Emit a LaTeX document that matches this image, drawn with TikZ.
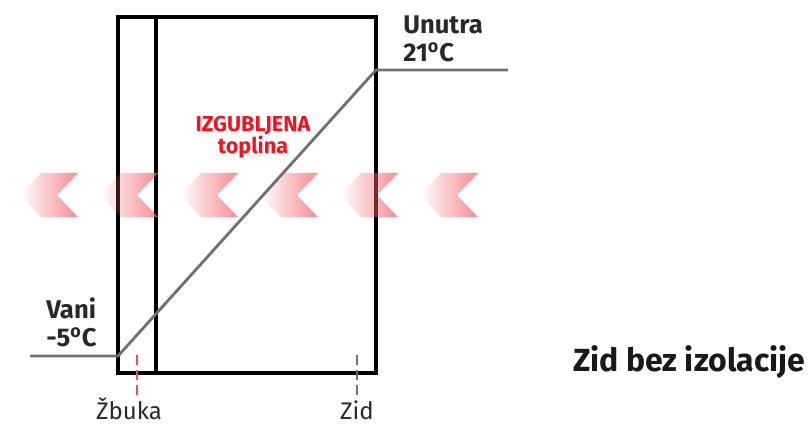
\documentclass[tikz,border=0pt]{standalone}
\usepackage{fontspec}
\setmainfont{Fira Sans}
\definecolor{lossred}{RGB}{240,20,30}
\definecolor{chevpink}{RGB}{243,100,112}
\definecolor{tempgray}{RGB}{112,112,112}
\definecolor{txtgray}{RGB}{40,40,40}
\usetikzlibrary{positioning,fadings}
\tikzfading[name=chevfade, left color=transparent!100, right color=transparent!0]

\begin{document}
\begin{tikzpicture}[x=0.5pt,y=-0.5pt,
  wall/.style={draw=black,line width=1.6pt},
  templine/.style={draw=tempgray,line width=1.4pt},
  chev/.style={fill=chevpink,fill opacity=0.75,path fading=chevfade},
  layermark/.style={line width=1.2pt,dash pattern=on 5pt off 2.5pt},
  tag/.style={font=\bfseries\fontsize{12.8}{14}\selectfont,align=left,text=txtgray,inner sep=0pt},
  lbl/.style={font=\fontsize{12}{14}\selectfont,text=txtgray,inner sep=0pt},
  lossnote/.style={font=\bfseries\fontsize{10.8}{11}\selectfont,align=center,text=lossred,inner sep=0pt}
]
  \useasboundingbox (0,0) rectangle (808,426);

  % Wall with plaster layer
  \draw[wall] (118,17) rectangle (376,373);
  \draw[wall] (156,17) -- (156,373);

  % Heat loss chevrons
  \foreach \x in {20,100,180,260,340,420}{
    \fill[chev] (\x+58,173) -- (\x+37,195) -- (\x+58,217) -- (\x+21,217)
      -- (\x,195) -- (\x+21,173) -- cycle;
  }

  % Temperature profile
  \coordinate (vani) at (30,356);
  \coordinate (wallout) at (118,356);
  \coordinate (wallin) at (376,70);
  \coordinate (unutra) at (508,70);
  \draw[templine] (vani) -- (wallout) -- (wallin) -- (unutra);

  % Labels
  \node[tag,anchor=south west] (vanilbl) at (46,347) {Vani\\-5\textsuperscript{o}C};
  \node[tag,anchor=south west] (unutralbl) at (403,62) {Unutra\\21\textsuperscript{o}C};
  \node[lossnote] (loss) at (253,137) {IZGUBLJENA\\toplina};
  \node[font=\bfseries\fontsize{16}{18}\selectfont,text=black!90,inner sep=0pt] (title) at (689,362) {Zid bez izolacije};

  % Layer markers
  \node[lbl,anchor=base] (zbuka) at (129,420) {Žbuka};
  \node[lbl,anchor=base] (zid) at (357,420) {Zid};
  \coordinate (zbukatop) at (137,355);
  \coordinate (zbukabot) at (137,398);
  \coordinate (zidtop) at (357,355);
  \coordinate (zidbot) at (357,398);
  \draw[layermark,draw=lossred!75] (zbukatop) -- (zbukabot);
  \draw[layermark,draw=tempgray] (zidtop) -- (zidbot);
\end{tikzpicture}
\end{document}
